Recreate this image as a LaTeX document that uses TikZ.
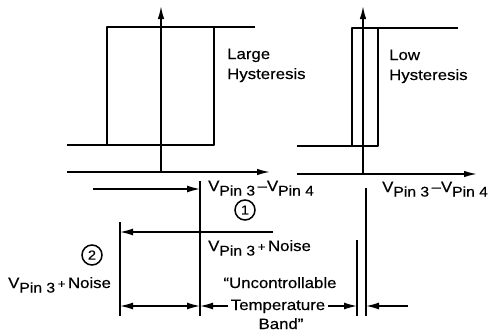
\documentclass[tikz,border=0pt]{standalone}
\usepackage{fontspec}
\setmainfont[FakeStretch=1.12,FakeBold=0.4]{Liberation Sans}
\usetikzlibrary{arrows.meta}
\newcommand{\vpin}[1]{V\raisebox{-4.5pt}{\fontsize{14}{14}\selectfont Pin #1}}
\newcommand{\smallplus}{{\fontsize{12}{12}\selectfont +}}
\begin{document}
\begin{tikzpicture}[x=1pt,y=-1pt,
  loopline/.style={line width=2pt, line join=round},
  axis/.style={line width=1.6pt, -{Latex[length=13pt,width=6.5pt]}},
  dim/.style={line width=1.4pt},
  darr/.style={dim, -{Latex[length=13pt,width=7pt]}},
  lbl/.style={font=\fontsize{15}{20}\selectfont, inner sep=0pt, anchor=base west},
  ctext/.style={font=\fontsize{15}{20}\selectfont, inner sep=0pt, anchor=base},
  num/.style={circle, draw, line width=1.5pt, minimum size=20pt, inner sep=0pt, font=\fontsize{13}{13}\selectfont}]
\useasboundingbox (0,0) rectangle (493,335);

% ---- left graph (large hysteresis)
\coordinate (LO) at (161,172);
\coordinate (LT) at (161,6);
\coordinate (LXs) at (67,172);
\coordinate (LXe) at (270,172);
\draw[axis] (LO) -- (LT);
\draw[axis] (LXs) -- (LXe);
\draw[loopline] (67,145) -| (214,27);
\draw[loopline] (255,27) -| (107,145);
\node[lbl] (large) at (227,59) {Large};
\node[lbl] (hys1) at (227,79) {Hysteresis};

% ---- right graph (low hysteresis)
\coordinate (RO) at (363,174);
\coordinate (RT) at (363,6);
\coordinate (RXs) at (297,174);
\coordinate (RXe) at (477,174);
\draw[axis] (RO) -- (RT);
\draw[axis] (RXs) -- (RXe);
\draw[loopline] (297,146) -| (378,28);
\draw[loopline] (458,28) -| (352,146);
\node[lbl] (low) at (389,60) {Low};
\node[lbl] (hys2) at (389,80) {Hysteresis};

% ---- lower dimension part
\coordinate (A1) at (200,181);
\coordinate (A2) at (200,316);
\coordinate (B1) at (120,222);
\coordinate (B2) at (120,316);
\coordinate (C1) at (357,240);
\coordinate (C2) at (357,316);
\coordinate (D1) at (366,188);
\coordinate (D2) at (366,316);
\draw[dim] (A1) -- (A2);
\draw[dim] (B1) -- (B2);
\draw[dim] (C1) -- (C2);
\draw[dim] (D1) -- (D2);

\coordinate (a0) at (93,189);
\coordinate (a1) at (200,189);
\draw[darr] (a0) -- (a1);
\node[lbl] (d1) at (208,191) {\vpin{3}\,\textendash\vpin{4}};
\node[num] (c1) at (245,210) {1};

\coordinate (b0) at (273,232);
\coordinate (b1) at (120,232);
\draw[darr] (b0) -- (b1);
\node[lbl] (n1) at (208,251) {\vpin{3}\,\smallplus\,Noise};

\node[num] (c2) at (92,255) {2};
\node[lbl] (n2) at (8,288) {\vpin{3}\,\smallplus\,Noise};

\coordinate (e0) at (120,306);
\coordinate (e1) at (200,306);
\draw[dim, {Latex[length=13pt,width=7pt]}-{Latex[length=13pt,width=7pt]}] (e0) -- (e1);

\node[ctext] (u1) at (280,288) {“Uncontrollable};
\node[ctext] (u2) at (278,310) {Temperature};
\node[ctext] (u3) at (281,329) {Band”};

\coordinate (f0) at (228,306);
\coordinate (f1) at (200,306);
\draw[darr] (f0) -- (f1);
\coordinate (g0) at (328,306);
\coordinate (g1) at (357,306);
\draw[darr] (g0) -- (g1);
\coordinate (h0) at (408,306);
\coordinate (h1) at (366,306);
\draw[darr] (h0) -- (h1);

\node[lbl] (d2) at (382,192) {\vpin{3}\,\textendash\vpin{4}};
\end{tikzpicture}
\end{document}
